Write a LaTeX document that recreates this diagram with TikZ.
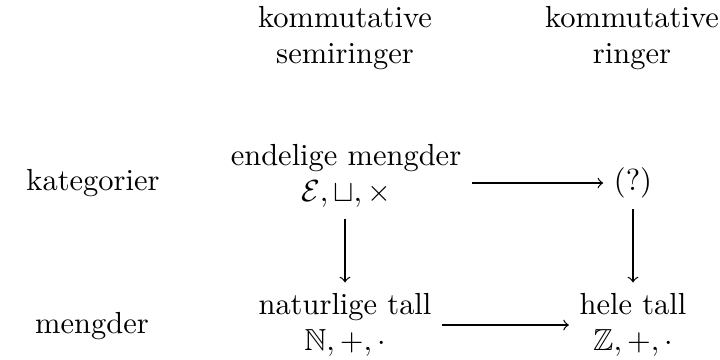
\documentclass[tikz,border=0pt]{standalone}
\usepackage{amssymb}
\begin{document}
\begin{tikzpicture}[x=0.328pt,y=-0.328pt,
  lbl/.style={align=center},
  arr/.style={->}]
\useasboundingbox (0,0) rectangle (720,360);
\node[lbl] (ks) at (345,38) {kommutative\\semiringer};
\node[lbl] (kr) at (632,38) {kommutative\\ringer};
\node[lbl] (kat) at (93,183) {kategorier};
\node[lbl] (men) at (92,326) {mengder};
\node[lbl] (e) at (346,176) {endelige mengder\\$\mathcal{E},\sqcup,\times$};
\node[lbl] (q) at (633,183) {(?)};
\node[lbl] (n) at (345,325) {naturlige tall\\$\mathbb{N},+,\cdot$};
\node[lbl] (z) at (633,325) {hele tall\\$\mathbb{Z},+,\cdot$};
\draw[arr] (e.east |- q) -- (q);
\draw[arr] (e.south -| n) -- (n);
\draw[arr] (q) -- (z);
\draw[arr] (n) -- (z);
\end{tikzpicture}
\end{document}
